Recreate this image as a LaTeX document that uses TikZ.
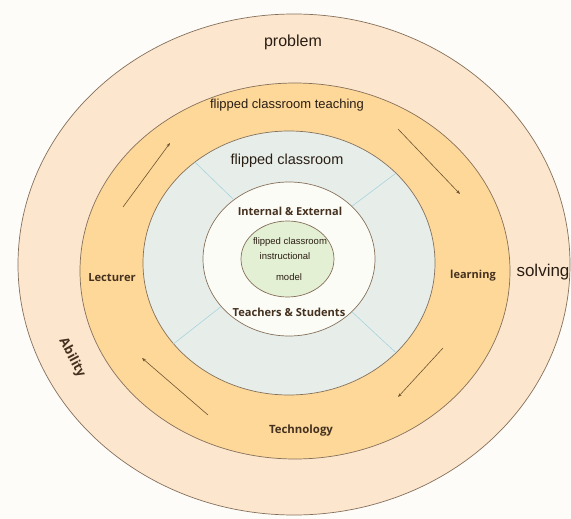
\documentclass[tikz,border=0pt]{standalone}
\usepackage{fontspec}
\setmainfont{Liberation Sans}
\newfontfamily\labelfont{Open Sans}
\usetikzlibrary{shapes.geometric,arrows.meta}

\definecolor{paper}{HTML}{FDFCF8}
\definecolor{peach}{HTML}{FDE6CE}
\definecolor{amber}{HTML}{FDD899}
\definecolor{mist}{HTML}{E7EEEA}
\definecolor{pearl}{HTML}{FCFCF7}
\definecolor{sprout}{HTML}{E4F0D4}
\definecolor{rim}{HTML}{85705A}
\definecolor{divider}{HTML}{A9D3DC}
\definecolor{arrowclr}{HTML}{6E5330}
\definecolor{ink}{HTML}{2A1E14}
\definecolor{labelink}{HTML}{45311F}

\tikzset{
  ring/.style={ellipse, draw=rim, line width=0.7pt, inner sep=0pt},
  plain/.style={font=\fontsize{#1}{#1}\selectfont, text=ink, inner sep=0pt},
  tag/.style={font=\labelfont\bfseries\fontsize{#1}{#1}\selectfont, text=labelink, inner sep=0pt},
  cycle arrow/.style={draw=arrowclr, line width=0.6pt, -{Stealth[length=4pt,width=3pt]}},
  split/.style={draw=divider, line width=0.6pt}
}

\begin{document}
\begin{tikzpicture}[x=1pt,y=-1pt]
  \useasboundingbox (0,0) rectangle (571,519);
  \fill[paper] (0,0) rectangle (571,519);

  % nested rings, outermost first
  \node[ring, fill=peach,  minimum width=552, minimum height=501] (outer)   at (294,264.5) {};
  \node[ring, fill=amber,  minimum width=430, minimum height=376] (teach)   at (295,271) {};
  \node[ring, fill=mist,   minimum width=292, minimum height=264] (flip)    at (289,263) {};
  \node[ring, fill=pearl,  minimum width=172, minimum height=154] (context) at (289,259) {};
  \node[ring, fill=sprout, minimum width=93,  minimum height=76]  (core)    at (287.5,259) {};

  % dividers across the flipped-classroom ring
  \draw[split] (flip.133) -- (context.133);
  \draw[split] (flip.40)  -- (context.40);
  \draw[split] (flip.215) -- (context.215);
  \draw[split] (flip.320) -- (context.320);

  % cycle arrows in the teaching ring
  \coordinate (a1s) at (123,207); \coordinate (a1e) at (170,143);
  \coordinate (a2s) at (398,129); \coordinate (a2e) at (460,194);
  \coordinate (a3s) at (443,348); \coordinate (a3e) at (398,397);
  \coordinate (a4s) at (208,415); \coordinate (a4e) at (142,358);
  \draw[cycle arrow] (a1s) -- (a1e);
  \draw[cycle arrow] (a2s) -- (a2e);
  \draw[cycle arrow] (a3s) -- (a3e);
  \draw[cycle arrow] (a4s) -- (a4e);

  % outer ring words
  \node[plain=16] (problem) at (293,42) {problem};
  \node[plain=17] (solving) at (543,272) {solving};
  \node[tag=13, rotate=-62] (ability) at (72,358) {Ability};

  % teaching ring words
  \node[plain=13] (teachtitle) at (287,105) {flipped classroom teaching};
  \node[tag=11.2] (lecturer) at (112,278) {Lecturer};
  \node[tag=11] (learning) at (473,276) {learning};
  \node[tag=11.4] (technology) at (301,431) {Technology};

  % inner rings
  \node[plain=14.5] (fliptitle) at (287,161) {flipped classroom};
  \node[tag=11] (ie) at (290,211) {Internal \& External};
  \node[tag=11.1] (ts) at (289,312) {Teachers \& Students};
  \node[plain=9.5] (m1) at (290,242) {flipped classroom};
  \node[plain=9.5] (m2) at (285,256) {instructional};
  \node[plain=9.5] (m3) at (289,277) {model};
\end{tikzpicture}
\end{document}
